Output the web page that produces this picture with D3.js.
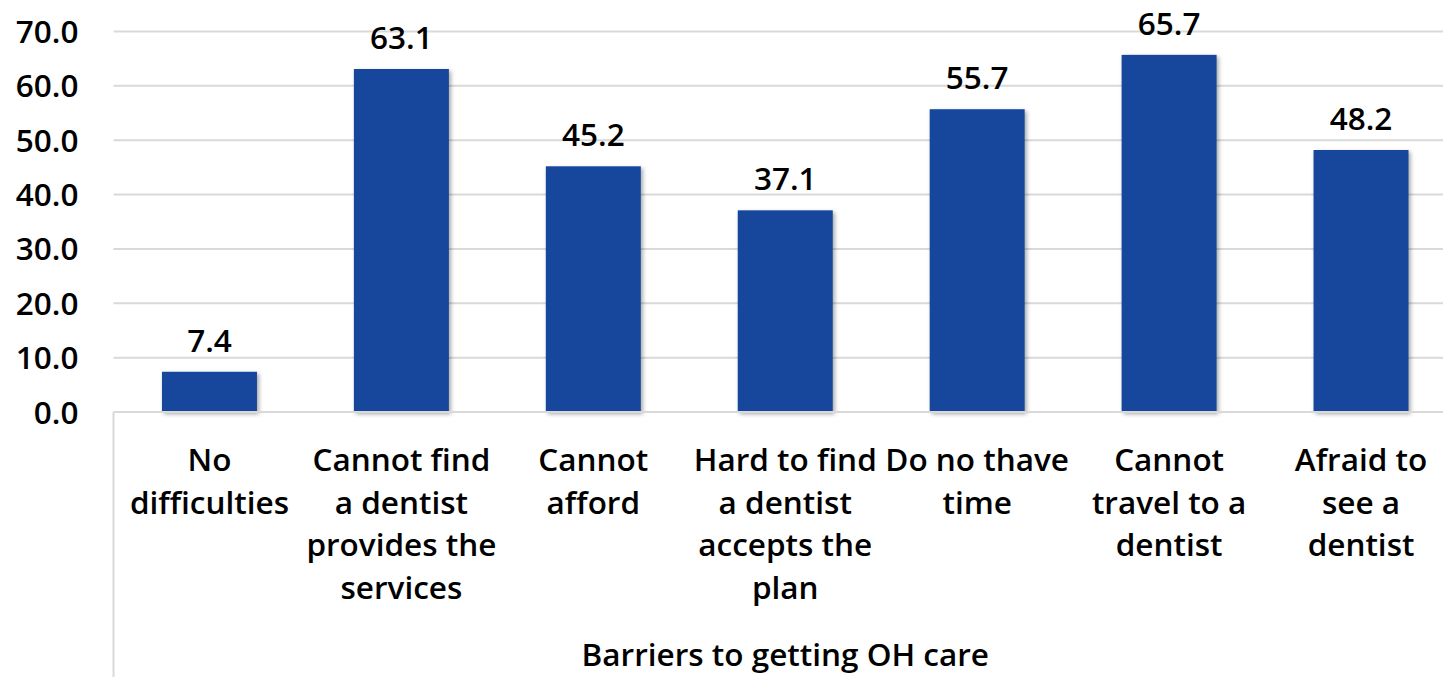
<!DOCTYPE html>
<html>
<head>
<meta charset="utf-8">
<script src="https://cdn.jsdelivr.net/npm/d3@7"></script>
<style>
  html, body { margin: 0; padding: 0; background: #fff; }
  svg { display: block; }
  text { font-family: "Open Sans", sans-serif; font-weight: 600; fill: #000; }
</style>
</head>
<body>
<svg id="chart" width="1443" height="677"></svg>
<script>
const categories = [
  ["No", "difficulties"],
  ["Cannot find", "a dentist", "provides the", "services"],
  ["Cannot", "afford"],
  ["Hard to find", "a dentist", "accepts the", "plan"],
  ["Do no thave", "time"],
  ["Cannot", "travel to a", "dentist"],
  ["Afraid to", "see a", "dentist"]
];
const values = [7.4, 63.1, 45.2, 37.1, 55.7, 65.7, 48.2];
const yTicks = [0, 10, 20, 30, 40, 50, 60, 70];
const axisTitle = "Barriers to getting OH care";

(function () {
const svg = d3.select("#chart");
const mLeft = 113.5, mRight = 1457, mTop = 31.5, mBottom = 412;
const fs = 31.5;

const defs = svg.append("defs");
const f = defs.append("filter").attr("id", "shadow")
  .attr("x", "-20%").attr("y", "-20%").attr("width", "140%").attr("height", "140%");
f.append("feDropShadow").attr("dx", 2).attr("dy", 2).attr("stdDeviation", 2)
  .attr("flood-color", "#000").attr("flood-opacity", 0.35);

const ids = categories.map((c, i) => i);
const x = d3.scaleBand().domain(ids).range([mLeft, mRight])
  .paddingInner(0.505).paddingOuter(0.2525);
const y = d3.scaleLinear().domain([0, 70]).range([mBottom, mTop]);

// gridlines
svg.append("g").selectAll("line").data(yTicks.filter(d => d > 0)).join("line")
  .attr("x1", mLeft).attr("x2", 1443)
  .attr("y1", d => y(d)).attr("y2", d => y(d))
  .attr("stroke", "#d9d9d9").attr("stroke-width", 2);

// y tick labels
const yAxis = d3.axisLeft(y).tickValues(yTicks).tickFormat(d3.format(".1f")).tickSize(0).tickPadding(35);
const yg = svg.append("g").attr("transform", `translate(${mLeft},0)`).call(yAxis);
yg.select(".domain").remove();
yg.selectAll("text").style("font-size", fs + "px").style("font-family", "'Open Sans', sans-serif")
  .style("font-weight", 600).attr("fill", "#000").attr("dy", "0.35em");

// bars
svg.append("g").selectAll("rect").data(values).join("rect")
  .attr("x", (d, i) => x(i)).attr("width", x.bandwidth())
  .attr("y", d => y(d)).attr("height", d => y(0) - y(d))
  .attr("fill", "#15479c").attr("filter", "url(#shadow)");

// baseline and category axis line
svg.append("line").attr("x1", mLeft).attr("x2", 1443).attr("y1", mBottom).attr("y2", mBottom)
  .attr("stroke", "#d9d9d9").attr("stroke-width", 2);
svg.append("line").attr("x1", mLeft).attr("x2", mLeft).attr("y1", mBottom).attr("y2", 677)
  .attr("stroke", "#d9d9d9").attr("stroke-width", 2);

// data labels
svg.append("g").selectAll("text").data(values).join("text")
  .attr("x", (d, i) => x(i) + x.bandwidth() / 2)
  .attr("y", d => y(d) - 20)
  .attr("text-anchor", "middle").style("font-size", fs + "px")
  .text(d => d3.format(".1f")(d));

// category labels
const cg = svg.append("g");
categories.forEach((lines, i) => {
  const t = cg.append("text").attr("text-anchor", "middle").style("font-size", fs + "px");
  lines.forEach((ln, j) => {
    t.append("tspan").attr("x", x(i) + x.bandwidth() / 2).attr("y", 471 + j * 42.5).text(ln);
  });
});

// axis title
svg.append("text").attr("x", (mLeft + mRight) / 2).attr("y", 666)
  .attr("text-anchor", "middle").style("font-size", fs + "px").text(axisTitle);
})();
</script>
</body>
</html>
